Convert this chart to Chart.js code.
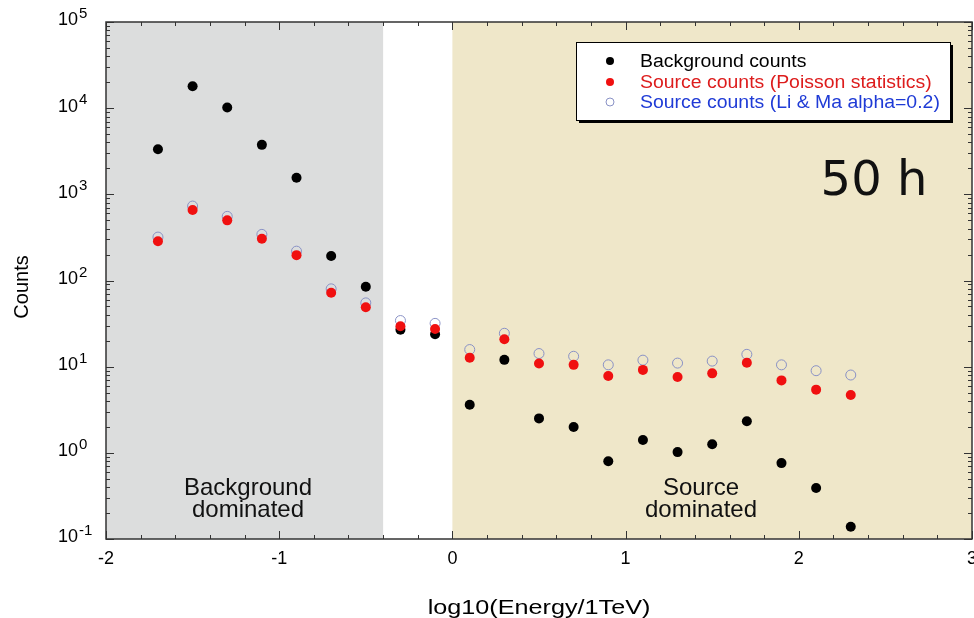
<!DOCTYPE html>
<html>
<head>
<meta charset="utf-8">
<script src="https://cdn.jsdelivr.net/npm/chart.js@4.4.1/dist/chart.umd.min.js"></script>
<style>
  html, body { margin: 0; padding: 0; background: #fff; }
  #wrap { width: 974px; height: 618px; }
</style>
</head>
<body>
<div id="wrap"><canvas id="myChart" width="974" height="618"></canvas></div>
<script>
const energyBins = [-1.7, -1.5, -1.3, -1.1, -0.9, -0.7, -0.5, -0.3, -0.1, 0.1, 0.3, 0.5, 0.7, 0.9, 1.1, 1.3, 1.5, 1.7, 1.9, 2.1, 2.3];
const backgroundCounts = [3340, 18000, 10200, 3750, 1560, 192, 84.5, 26.9, 23.8, 3.61, 12.0, 2.51, 1.99, 0.80, 1.41, 1.02, 1.26, 2.33, 0.76, 0.39, 0.139];
const sourcePoisson = [286, 657, 499, 305, 197, 72, 49, 29.4, 27.4, 12.7, 20.8, 10.9, 10.5, 7.78, 9.17, 7.59, 8.36, 11.1, 6.93, 5.41, 4.69];
const sourceLiMa = [319, 731, 555, 343, 219, 80, 55, 34.3, 31.8, 15.8, 24.4, 14.2, 13.2, 10.5, 11.9, 11.0, 11.6, 13.9, 10.5, 8.98, 8.0];

const xTicks = [-2, -1, 0, 1, 2, 3];
const yTicks = [0.1, 1, 10, 100, 1000, 10000, 100000];
const yExponents = ['-1', '0', '1', '2', '3', '4', '5'];

const legendLabels = ['Background counts', 'Source counts (Poisson statistics)', 'Source counts (Li & Ma alpha=0.2)'];
const regionBackground = [-2, -0.4];
const regionSource = [0, 3];

const FONT = '"Liberation Sans", Arial, sans-serif';

const toPoints = (values) => energyBins.map((x, i) => ({ x, y: values[i] }));

// text drawn a bit wider than the font, like the original figure
const wideText = (ctx, text, x, y, sx) => {
    ctx.save();
    ctx.translate(x, y);
    ctx.scale(sx, 1);
    ctx.fillText(text, 0, 0);
    ctx.restore();
};

const decorPlugin = {
    id: 'decor',
    beforeDatasetsDraw(chart) {
        const { ctx, chartArea: a, scales: { x } } = chart;
        ctx.save();
        ctx.fillStyle = '#dcdddd';
        ctx.fillRect(x.getPixelForValue(regionBackground[0]), a.top,
            x.getPixelForValue(regionBackground[1]) - x.getPixelForValue(regionBackground[0]), a.bottom - a.top);
        ctx.fillStyle = '#efe7c9';
        ctx.fillRect(x.getPixelForValue(regionSource[0]), a.top,
            x.getPixelForValue(regionSource[1]) - x.getPixelForValue(regionSource[0]), a.bottom - a.top);

        ctx.fillStyle = '#111';
        ctx.font = '24px ' + FONT;
        ctx.textAlign = 'center';
        ctx.textBaseline = 'alphabetic';
        ctx.fillText('Background', 248, 495);
        ctx.fillText('dominated', 248, 517);
        ctx.fillText('Source', 701, 495);
        ctx.fillText('dominated', 701, 517);

        ctx.font = '48px "DejaVu Sans", sans-serif';
        ctx.fillText('50 h', 874, 195);
        ctx.restore();
    },
    afterDraw(chart) {
        const { ctx, chartArea: a, scales: { x, y } } = chart;
        ctx.save();

        // ticks on all four sides, pointing inward
        ctx.strokeStyle = '#333';
        ctx.lineWidth = 1;
        ctx.beginPath();
        for (let v = -2; v <= 3.001; v += 0.2) {
            const px = Math.round(x.getPixelForValue(v)) + 0.5;
            const major = Math.abs(v - Math.round(v)) < 1e-6;
            const len = major ? 8 : 4;
            ctx.moveTo(px, a.bottom); ctx.lineTo(px, a.bottom - len);
            ctx.moveTo(px, a.top); ctx.lineTo(px, a.top + len);
        }
        for (let e = -1; e <= 5; e++) {
            for (let m = 1; m <= 9; m++) {
                const v = m * Math.pow(10, e);
                if (v > 100000 * 1.0001) continue;
                const py = Math.round(y.getPixelForValue(v)) + 0.5;
                const len = m === 1 ? 8 : 4;
                ctx.moveTo(a.left, py); ctx.lineTo(a.left + len, py);
                ctx.moveTo(a.right, py); ctx.lineTo(a.right - len, py);
            }
        }
        ctx.stroke();

        ctx.lineWidth = 1.5;
        ctx.strokeStyle = '#333';
        ctx.strokeRect(a.left, a.top, a.right - a.left, a.bottom - a.top);

        // tick labels
        ctx.fillStyle = '#000';
        ctx.font = '18px ' + FONT;
        ctx.textAlign = 'center';
        ctx.textBaseline = 'middle';
        xTicks.forEach((t) => ctx.fillText(String(t), x.getPixelForValue(t), 559));

        yTicks.forEach((t, i) => {
            const py = y.getPixelForValue(t);
            ctx.font = '18px ' + FONT;
            ctx.textAlign = 'right';
            ctx.fillText('10', 78, py - 1.5);
            ctx.font = '15px ' + FONT;
            ctx.textAlign = 'left';
            ctx.fillText(yExponents[i], 79, py - 8);
        });

        // axis titles
        ctx.textAlign = 'center';
        ctx.font = '21px ' + FONT;
        ctx.textBaseline = 'alphabetic';
        wideText(ctx, 'log10(Energy/1TeV)', (a.left + a.right) / 2, 614, 1.2);
        ctx.font = '20px ' + FONT;
        ctx.textBaseline = 'middle';
        ctx.save();
        ctx.translate(22, 287);
        ctx.rotate(-Math.PI / 2);
        ctx.fillText('Counts', 0, 0);
        ctx.restore();

        // legend box with shadow
        const bx = 576, by = 42, bw = 374, bh = 78;
        ctx.fillStyle = '#000';
        ctx.fillRect(bx + 3, by + 3, bw, bh);
        ctx.fillStyle = '#fff';
        ctx.fillRect(bx, by, bw, bh);
        ctx.lineWidth = 1;
        ctx.strokeStyle = '#000';
        ctx.strokeRect(bx + 0.5, by + 0.5, bw, bh);

        const rows = [61, 82, 102];
        const textColors = ['#000', '#dd1c1c', '#1f3bd6'];
        chart.data.datasets.forEach((ds, i) => {
            ctx.beginPath();
            ctx.arc(610, rows[i], 4, 0, Math.PI * 2);
            if (ds.pointBackgroundColor !== 'transparent') {
                ctx.fillStyle = ds.pointBackgroundColor;
                ctx.fill();
            } else {
                ctx.strokeStyle = ds.pointBorderColor;
                ctx.stroke();
            }
            ctx.fillStyle = textColors[i];
            ctx.font = '18px ' + FONT;
            ctx.textAlign = 'left';
            wideText(ctx, legendLabels[i], 640, rows[i] + 1, 1.08);
        });
        ctx.restore();
    },
};

const ctx = document.getElementById('myChart');

const chart = new Chart(ctx, {
    type: 'scatter',
    data: {
        datasets: [
            {
                label: legendLabels[0],
                data: toPoints(backgroundCounts),
                pointBackgroundColor: '#000',
                pointBorderColor: '#000',
                pointRadius: 5,
                borderWidth: 0,
                order: 2,
            },
            {
                label: legendLabels[1],
                data: toPoints(sourcePoisson),
                pointBackgroundColor: '#f01010',
                pointBorderColor: '#f01010',
                pointRadius: 5,
                borderWidth: 0,
                order: 0,
            },
            {
                label: legendLabels[2],
                data: toPoints(sourceLiMa),
                pointBackgroundColor: 'transparent',
                pointBorderColor: '#8a92c6',
                pointBorderWidth: 1,
                pointRadius: 5,
                order: 1,
            },
        ],
    },
    options: {
        responsive: false,
        animation: false,
        events: [],
        layout: { autoPadding: false, padding: { top: 22, right: 2, left: 0, bottom: 0 } },
        plugins: {
            legend: { display: false },
            tooltip: { enabled: false },
        },
        scales: {
            x: {
                type: 'linear',
                min: -2,
                max: 3,
                ticks: { display: false },
                grid: { display: false, drawTicks: false },
                border: { display: false },
                afterFit: (s) => { s.height = 79; },
            },
            y: {
                type: 'logarithmic',
                min: 0.1,
                max: 100000,
                ticks: { display: false },
                grid: { display: false, drawTicks: false },
                border: { display: false },
                afterFit: (s) => { s.width = 106; },
            },
        },
    },
    plugins: [decorPlugin],
});
</script>
</body>
</html>
